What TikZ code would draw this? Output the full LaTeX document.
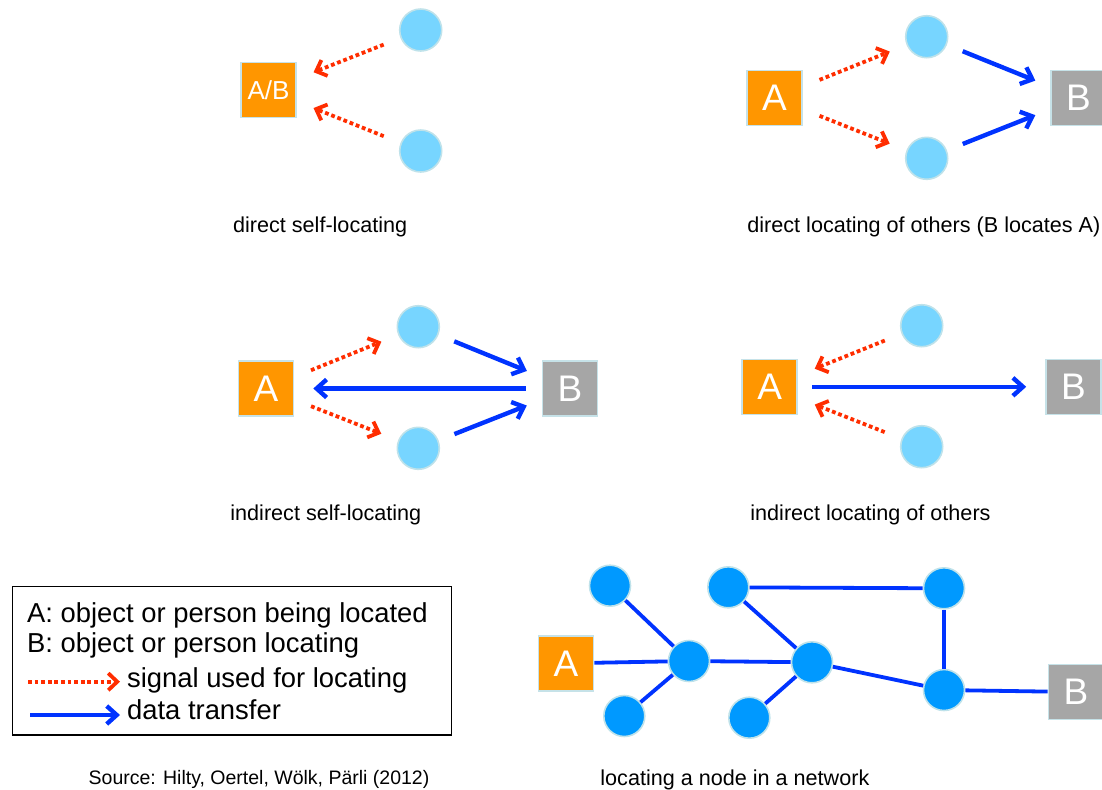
\documentclass[tikz,border=0pt]{standalone}
\usepackage{fontspec}
\setmainfont{Liberation Sans}
\usetikzlibrary{arrows.meta}

\definecolor{boxorange}{HTML}{FF9600}
\definecolor{boxgray}{HTML}{A6A6A6}
\definecolor{boxrim}{HTML}{C6E2E8}
\definecolor{sensorfill}{HTML}{77D5FF}
\definecolor{sensorrim}{HTML}{BFE2EA}
\definecolor{netblue}{HTML}{0099FF}
\definecolor{linkblue}{HTML}{0033FF}
\definecolor{sigred}{HTML}{FF2D00}

\tikzset{
  obj/.style={draw=boxrim, line width=0.8pt, fill=boxorange, text=white, minimum size=27.5pt, inner sep=0pt, font=\fontsize{18.5}{20}\selectfont},
  loc/.style={obj, fill=boxgray},
  sensor/.style={circle, draw=sensorrim, line width=0.8pt, fill=sensorfill, minimum size=21pt, inner sep=0pt},
  hop/.style={sensor, fill=netblue, minimum size=20.5pt},
  signalline/.style={draw=sigred, line width=1.9pt, dash pattern=on 1.9pt off 1.4pt, -{Straight Barb[length=4.5pt,width=8.5pt]}, shorten <=9pt, shorten >=9pt},
  datalink/.style={draw=linkblue, line width=2.2pt, -{Straight Barb[length=5pt,width=9pt]}, shorten <=8.5pt, shorten >=8pt},
  netlink/.style={draw=linkblue, line width=1.9pt},
  caption/.style={anchor=base west, inner sep=0pt, font=\fontsize{10.8}{13}\selectfont},
  legendtext/.style={anchor=base west, inner sep=0pt, font=\fontsize{13.7}{16}\selectfont}
}

\begin{document}
\begin{tikzpicture}[x=0.5pt,y=-0.5pt]
    \useasboundingbox (0,0) rectangle (1102,789);

    % direct self-locating
    \node[obj, font=\fontsize{13}{15}\selectfont] at (268.5,90) (AB) {A/B};
    \node[sensor] at (420.7,30) (S1) {};
    \node[sensor] at (420.7,151) (S2) {};
    \draw[signalline] (S1) -- (AB);
    \draw[signalline] (S2) -- (AB);
    \node[caption] at (232.7,232) (C1) {direct self-locating};

    % direct locating of others
    \node[obj] at (774.5,98) (A2) {A};
    \node[sensor] at (926.7,36.7) (T1) {};
    \node[sensor] at (926.7,158.3) (T2) {};
    \node[loc] at (1078.5,98) (B2) {B};
    \draw[signalline] (A2) -- (T1);
    \draw[signalline] (A2) -- (T2);
    \draw[datalink] (T1) -- (B2);
    \draw[datalink] (T2) -- (B2);
    \node[caption] at (747,232) (C2) {direct locating of others (B locates A)};

    % indirect self-locating
    \node[obj] at (266,388.5) (A3) {A};
    \node[sensor] at (418.3,326.7) (U1) {};
    \node[sensor] at (418.3,448.3) (U2) {};
    \node[loc] at (570,388.5) (B3) {B};
    \draw[signalline] (A3) -- (U1);
    \draw[signalline] (A3) -- (U2);
    \draw[datalink] (U1) -- (B3);
    \draw[datalink] (U2) -- (B3);
    \draw[datalink, shorten <=8pt, shorten >=9.5pt] (B3) -- (A3);
    \node[caption] at (230,520) (C3) {indirect self-locating};

    % indirect locating of others
    \node[obj] at (769.7,386.8) (A4) {A};
    \node[sensor] at (921.7,325.7) (V1) {};
    \node[sensor] at (921.7,446.7) (V2) {};
    \node[loc] at (1073.5,386.8) (B4) {B};
    \draw[signalline] (V1) -- (A4);
    \draw[signalline] (V2) -- (A4);
    \draw[datalink, shorten <=7pt, shorten >=9.5pt] (A4) -- (B4);
    \node[caption] at (750,520) (C4) {indirect locating of others};

    % network
    \node[obj] at (566,663.3) (A5) {A};
    \node[hop] at (610,585.7) (N1) {};
    \node[hop] at (689,661) (N2) {};
    \node[hop] at (624.3,716) (N3) {};
    \node[hop] at (728.3,587.3) (N4) {};
    \node[hop] at (812,662.3) (N5) {};
    \node[hop] at (749.3,717.7) (N6) {};
    \node[hop] at (944,588.3) (N7) {};
    \node[hop] at (944,690) (N8) {};
    \node[loc] at (1076,692) (B5) {B};
    \draw[netlink] (A5) -- (N2);
    \draw[netlink] (N1) -- (N2);
    \draw[netlink] (N3) -- (N2);
    \draw[netlink] (N2) -- (N5);
    \draw[netlink] (N4) -- (N5);
    \draw[netlink] (N6) -- (N5);
    \draw[netlink] (N4) -- (N7);
    \draw[netlink] (N7) -- (N8);
    \draw[netlink] (N5) -- (N8);
    \draw[netlink] (N8) -- (B5);
    \node[caption] at (600,785) (C5) {locating a node in a network};

    % legend
    \node[draw, line width=0.75pt, minimum width=219.7pt, minimum height=74.2pt, inner sep=0pt] at (232,660.9) (K) {};
    \node[legendtext] at (26.7,622) (L1) {A: object or person being located};
    \node[legendtext] at (26.7,652) (L2) {B: object or person locating};
    \node[legendtext] at (126.7,687) (L3) {signal used for locating};
    \node[legendtext] at (126.7,719.5) (L4) {data transfer};
    \coordinate (R0) at (28,681.7);
    \coordinate (R1) at (120,681.7);
    \coordinate (D0) at (30,715);
    \coordinate (D1) at (120,715);
    \draw[signalline, shorten <=0pt, shorten >=0pt] (R0) -- (R1);
    \draw[datalink, shorten <=0pt, shorten >=0pt] (D0) -- (D1);

    \node[anchor=base west, inner sep=0pt, font=\fontsize{9.75}{12}\selectfont] at (88.3,784) (SRC) {Source: Hilty, Oertel, Wölk, Pärli (2012)};
\end{tikzpicture}
\end{document}
